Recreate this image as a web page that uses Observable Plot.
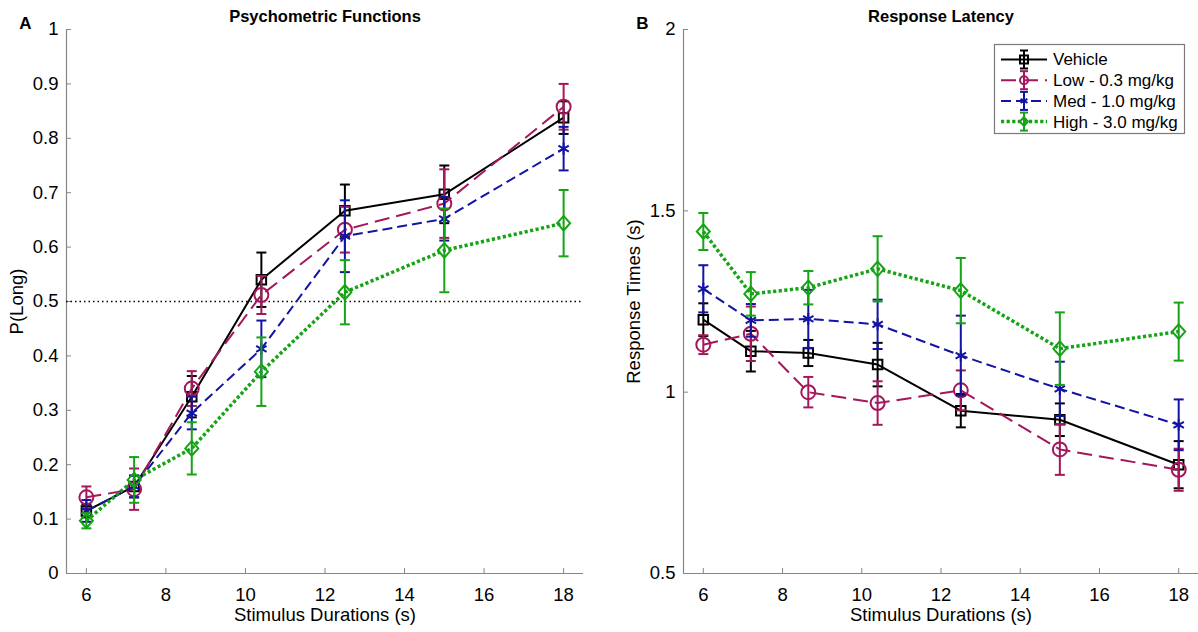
<!DOCTYPE html>
<html><head><meta charset="utf-8">
<script src="https://cdn.jsdelivr.net/npm/d3@7"></script>
<script src="https://cdn.jsdelivr.net/npm/@observablehq/plot@0.6"></script>
<style>
body{margin:0;background:#fff;font-family:"Liberation Sans",Arial,sans-serif;}
#wrap{position:relative;width:1198px;height:632px;overflow:hidden;background:#fff;}
#left,#right{position:absolute;top:0;}
#left{left:0}#right{left:599px}
#legend{position:absolute;left:0;top:0;pointer-events:none}
</style></head><body>
<div id="wrap"><div id="left"></div><div id="right"></div><svg id="legend" width="1198" height="632"></svg></div>
<script>
// ---------- data ----------
const durations = [6, 7.2, 8.65, 10.4, 12.5, 15, 18];
const groups = ["Vehicle", "Low - 0.3 mg/kg", "Med - 1.0 mg/kg", "High - 3.0 mg/kg"];
const xTicks = [6, 8, 10, 12, 14, 16, 18];
const pTicks = [0, 0.1, 0.2, 0.3, 0.4, 0.5, 0.6, 0.7, 0.8, 0.9, 1];
const rtTicks = [0.5, 1, 1.5, 2];

// Panel A: P(Long) mean and SEM
const pLongVehicle = [0.115, 0.16, 0.325, 0.54, 0.667, 0.697, 0.838];
const pLongVehicleSem = [0.012, 0.02, 0.038, 0.05, 0.048, 0.053, 0.03];
const pLongLow = [0.14, 0.155, 0.34, 0.512, 0.632, 0.68, 0.858];
const pLongLowSem = [0.02, 0.038, 0.032, 0.035, 0.042, 0.063, 0.042];
const pLongMed = [0.115, 0.16, 0.295, 0.413, 0.62, 0.652, 0.781];
const pLongMedSem = [0.02, 0.02, 0.03, 0.052, 0.066, 0.04, 0.04];
const pLongHigh = [0.097, 0.172, 0.23, 0.371, 0.517, 0.594, 0.644];
const pLongHighSem = [0.014, 0.042, 0.048, 0.063, 0.059, 0.077, 0.061];

// Panel B: response times mean and SEM
const rtVehicle = [1.2, 1.113, 1.108, 1.076, 0.949, 0.924, 0.80];
const rtVehicleSem = [0.045, 0.056, 0.036, 0.06, 0.046, 0.045, 0.065];
const rtLow = [1.131, 1.161, 1.0, 0.97, 1.005, 0.842, 0.786];
const rtLowSem = [0.026, 0.075, 0.042, 0.06, 0.055, 0.07, 0.058];
const rtMed = [1.285, 1.198, 1.202, 1.187, 1.101, 1.009, 0.91];
const rtMedSem = [0.065, 0.045, 0.08, 0.068, 0.11, 0.075, 0.07];
const rtHigh = [1.443, 1.271, 1.288, 1.34, 1.28, 1.12, 1.167];
const rtHighSem = [0.051, 0.06, 0.046, 0.09, 0.09, 0.1, 0.08];

// ---------- styles ----------
const colors = ["#000000", "#a3185c", "#1414a3", "#16a316"];
const dashes = [null, "15,7", "10,5", "3.2,2.4"];
const widths = [2, 2, 2, 3.5];
const radii = [4.75, 7, 6, 6.5];
const axisGray = "#858585";
const font = "'Liberation Sans', Arial, Helvetica, sans-serif";

const R = s => Math.sqrt(s / Math.PI);
const symbols = [
  {draw(c, s) { const r = R(s); c.moveTo(-r, -r); c.lineTo(r, -r); c.lineTo(r, r); c.lineTo(-r, r); c.closePath(); }},
  {draw(c, s) { const r = R(s); c.moveTo(r, 0); c.arc(0, 0, r, 0, 2 * Math.PI); }},
  {draw(c, s) { const r = R(s); for (const a of [90, 30, 150]) { const t = a * Math.PI / 180; c.moveTo(r * Math.cos(t), -r * Math.sin(t)); c.lineTo(-r * Math.cos(t), r * Math.sin(t)); } }},
  {draw(c, s) { const r = R(s); c.moveTo(0, -r * 1.12); c.lineTo(r, 0); c.lineTo(0, r * 1.12); c.lineTo(-r, 0); c.closePath(); }}
];
const capSymbol = {draw(c, s) { const r = R(s); c.moveTo(-r, 0); c.lineTo(r, 0); }};

const rows = (m, s) => durations.map((x, i) => ({x, y: m[i], lo: m[i] - s[i], hi: m[i] + s[i]}));

function seriesMarks(data, i) {
  const st = {stroke: colors[i], strokeWidth: 2};
  return [
    Plot.line(data, {x: "x", y: "y", stroke: colors[i], strokeWidth: widths[i], strokeDasharray: dashes[i], strokeLinecap: "butt", strokeLinejoin: "miter"}),
    Plot.ruleX(data, {x: "x", y1: "lo", y2: "hi", ...st, strokeLinecap: "butt"}),
    Plot.dot(data, {x: "x", y: "lo", symbol: capSymbol, r: 5, ...st}),
    Plot.dot(data, {x: "x", y: "hi", symbol: capSymbol, r: 5, ...st}),
    Plot.dot(data, {x: "x", y: "y", symbol: symbols[i], r: radii[i], fill: "none", ...st})
  ];
}

function panel({marginLeft, marginRight, yDomain, yTicks, yFormat, series, title, letter, yLabel, extra = []}) {
  return Plot.plot({
    width: 599, height: 632, marginTop: 29, marginBottom: 59, marginLeft, marginRight,
    x: {domain: [5.5, 18.5]},
    y: {domain: yDomain},
    style: {fontFamily: font, fontSize: "18.5px", color: "black", background: "white"},
    marks: [
      Plot.ruleY([yDomain[0]], {stroke: axisGray, strokeWidth: 1.2}),
      Plot.ruleX([5.5], {stroke: axisGray, strokeWidth: 1.2}),
      Plot.axisX(xTicks, {tickSize: -5, tickPadding: 19, stroke: axisGray, label: null, fontSize: 18.5}),
      Plot.axisY(yTicks, {tickSize: -5, tickPadding: 13, stroke: axisGray, label: null, fontSize: 18.5, tickFormat: yFormat}),
      ...extra,
      ...series.flatMap((d, i) => seriesMarks(d, i)),
      Plot.text([title], {frameAnchor: "top", dy: -13, lineAnchor: "middle", fontWeight: "bold", fontSize: 16.5}),
      Plot.text([letter], {frameAnchor: "top-left", dx: -41, dy: -6, lineAnchor: "middle", textAnchor: "middle", fontWeight: "bold", fontSize: 17}),
      Plot.text(["Stimulus Durations (s)"], {frameAnchor: "bottom", dy: 42, lineAnchor: "middle", fontSize: 18.5}),
      Plot.text([yLabel], {frameAnchor: "left", dx: -49, rotate: -90, lineAnchor: "middle", textAnchor: "middle", fontSize: 18.5})
    ]
  });
}

const fmt = d => String(+d.toFixed(2));

document.getElementById("left").append(panel({
  marginLeft: 66, marginRight: 16, yDomain: [0, 1], yTicks: pTicks, yFormat: fmt,
  series: [rows(pLongVehicle, pLongVehicleSem), rows(pLongLow, pLongLowSem), rows(pLongMed, pLongMedSem), rows(pLongHigh, pLongHighSem)],
  title: "Psychometric Functions", letter: "A", yLabel: "P(Long)",
  extra: [Plot.ruleY([0.5], {stroke: "black", strokeWidth: 1.3, strokeDasharray: "1.5,3"})]
}));

document.getElementById("right").append(panel({
  marginLeft: 84, marginRight: 0, yDomain: [0.5, 2], yTicks: rtTicks, yFormat: fmt,
  series: [rows(rtVehicle, rtVehicleSem), rows(rtLow, rtLowSem), rows(rtMed, rtMedSem), rows(rtHigh, rtHighSem)],
  title: "Response Latency", letter: "B", yLabel: "Response Times (s)"
}));

// ---------- legend ----------
const lg = d3.select("#legend");
lg.append("rect").attr("x", 994.5).attr("y", 44.5).attr("width", 190).attr("height", 89)
  .attr("fill", "white").attr("stroke", "#7a7a7a").attr("stroke-width", 1.2);
groups.forEach((g, i) => {
  const y = 59.5 + i * 20.7, cx = 1024;
  const gg = lg.append("g").attr("stroke", colors[i]).attr("fill", "none").attr("stroke-width", 2);
  gg.append("line").attr("x1", 1001).attr("x2", 1047).attr("y1", y).attr("y2", y)
    .attr("stroke-width", widths[i]).attr("stroke-dasharray", dashes[i]);
  gg.append("line").attr("x1", cx).attr("x2", cx).attr("y1", y - 9).attr("y2", y + 9);
  gg.append("line").attr("x1", cx - 4).attr("x2", cx + 4).attr("y1", y - 9).attr("y2", y - 9);
  gg.append("line").attr("x1", cx - 4).attr("x2", cx + 4).attr("y1", y + 9).attr("y2", y + 9);
  const p = d3.path(); symbols[i].draw(p, Math.PI * 16);
  gg.append("path").attr("d", p.toString()).attr("transform", `translate(${cx},${y})`);
  lg.append("text").attr("x", 1053).attr("y", y).attr("dy", "0.35em")
    .attr("font-family", font).attr("font-size", 17).attr("fill", "black").text(g);
});
</script></body></html>
